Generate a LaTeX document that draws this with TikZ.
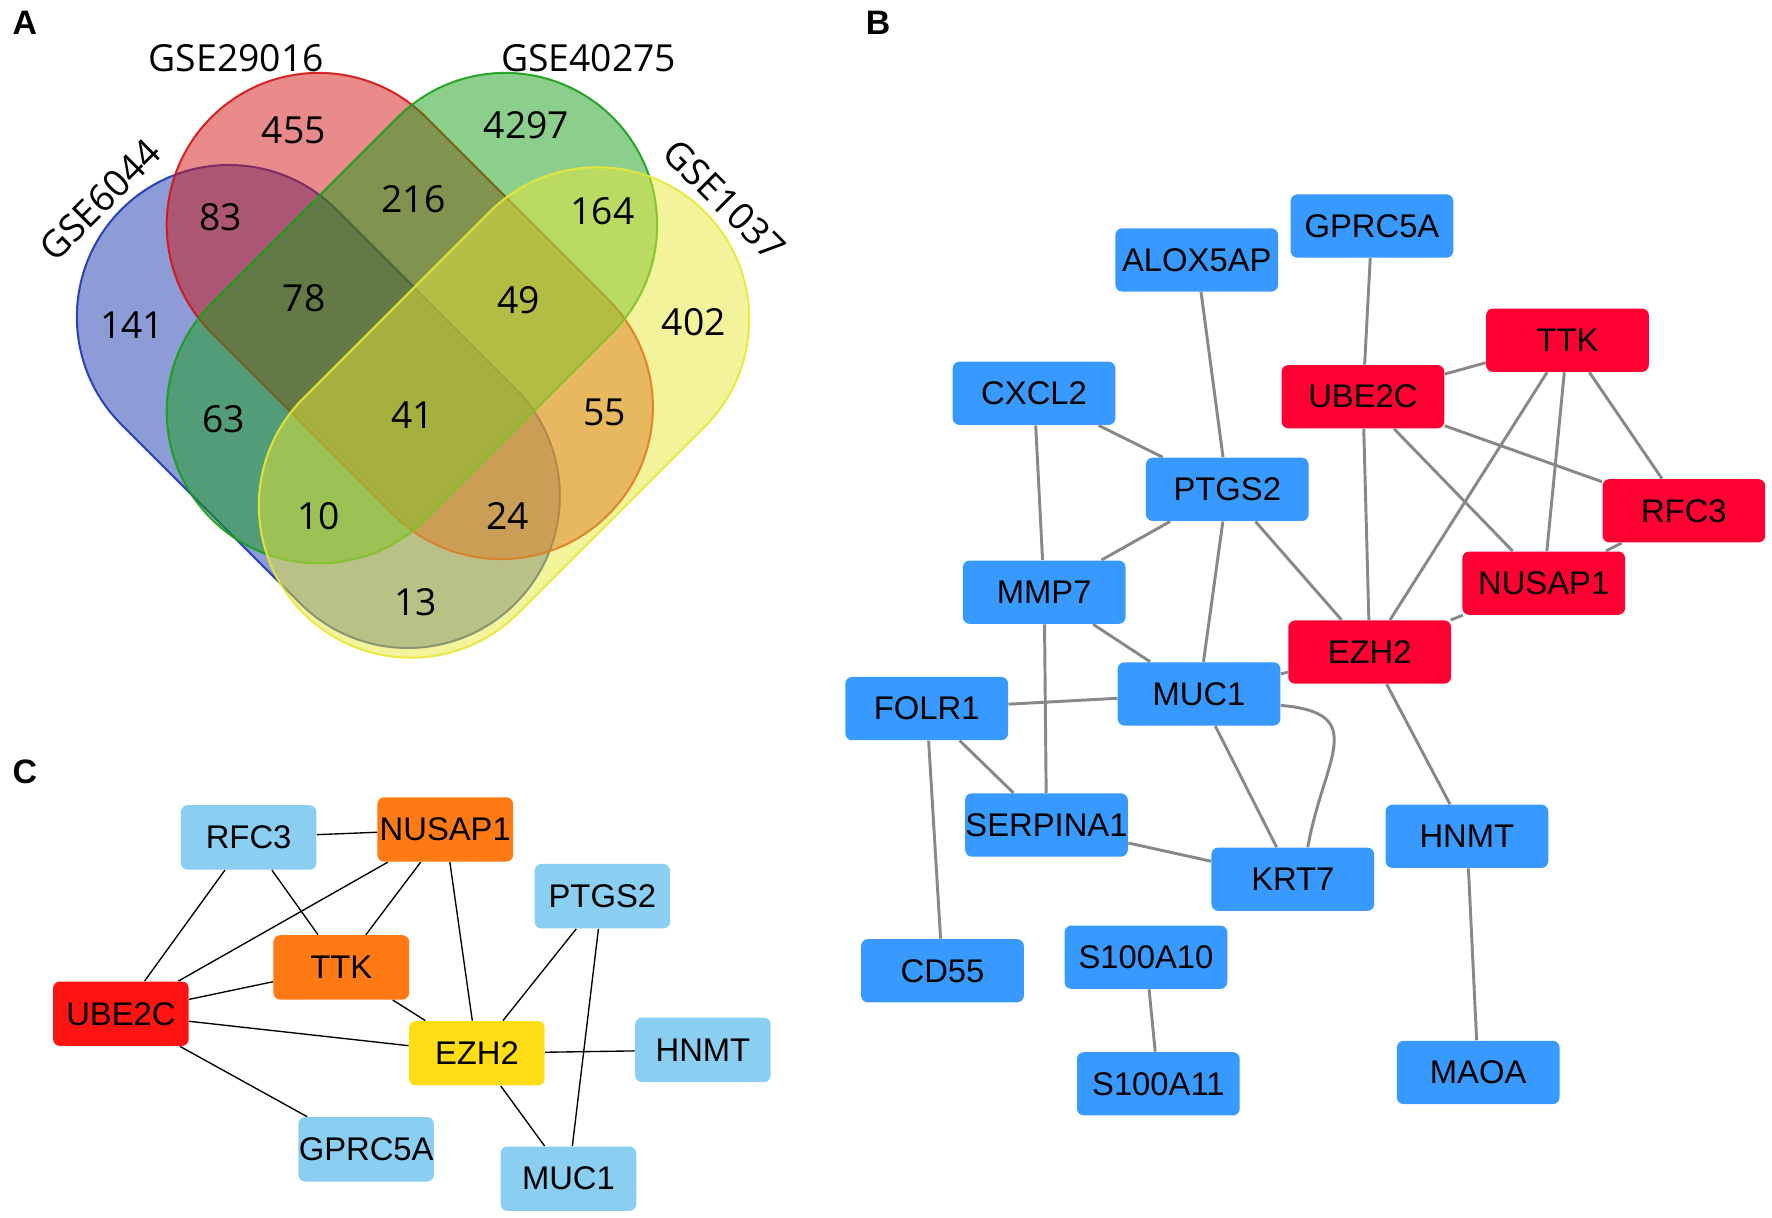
\documentclass[tikz,border=0pt]{standalone}
\usepackage{fontspec}
\setmainfont{Liberation Sans}
\newfontfamily\vennfont{Open Sans}
\definecolor{setblue}{RGB}{27,55,175}
\definecolor{setred}{RGB}{209,21,21}
\definecolor{setgreen}{RGB}{25,159,25}
\definecolor{setyellow}{RGB}{231,231,55}
\definecolor{netblue}{RGB}{56,154,255}
\definecolor{netred}{RGB}{255,0,51}
\definecolor{netgrey}{RGB}{136,136,136}
\definecolor{hubred}{RGB}{255,20,20}
\definecolor{huborange}{RGB}{255,122,20}
\definecolor{hubyellow}{RGB}{255,221,20}
\definecolor{hubblue}{RGB}{138,207,242}
\begin{document}
\begin{tikzpicture}[x=0.5pt,y=-0.5pt,
  venntext/.style={font=\vennfont\fontsize{16.5}{18}\selectfont},
  panel/.style={font=\bfseries\fontsize{15}{16}\selectfont},
  gnode/.style={rectangle,rounded corners=3pt,minimum width=72pt,minimum height=28pt,inner sep=0pt,font=\fontsize{14.5}{16}\selectfont},
  bnode/.style={gnode,fill=netblue},
  rnode/.style={gnode,fill=netred},
  cnode/.style={gnode,minimum width=60pt,minimum height=28.5pt},
  bedge/.style={draw=netgrey,line width=1.3pt},
  cedge/.style={draw=black,line width=0.6pt}]
  \useasboundingbox (0,0) rectangle (1568,1077);

  % Venn sets
  \foreach \cx/\cy/\ang/\len/\col in {202.5/280.5/-45/112/setblue, 282/199/-45/114/setred,
      447/199/-135/116.65/setgreen, 528.5/282.5/-135/116.65/setyellow} {
    \begin{scope}[shift={(\cx,\cy)},rotate=\ang]
      \filldraw[fill=\col,draw=\col,fill opacity=0.5,draw opacity=0.9,line width=0.9pt]
        (0pt,67.25pt) -- (\len pt,67.25pt) arc[start angle=90,end angle=-90,radius=67.25pt]
        -- (0pt,-67.25pt) arc[start angle=-90,end angle=-270,radius=67.25pt] -- cycle;
    \end{scope}
  }

  % Venn labels
  \node[venntext] (gse29016) at (209,51.6) {GSE29016};
  \node[venntext] (gse40275) at (521,51.6) {GSE40275};
  \node[venntext,rotate=45] (gse6044) at (88.5,177) {GSE6044};
  \node[venntext,rotate=-45] (gse1037) at (641,177) {GSE1037};
  \foreach \n/\x/\y in {455/260/115, 4297/466/111, 83/195/192, 216/366/176, 164/533/187,
      141/117/288, 78/269/264, 49/459/266, 402/614/285, 63/198/371, 41/365/367,
      55/535/365, 10/282/457, 24/449/457, 13/368/533}
    \node[venntext] (v\n) at (\x,\y) {\n};

  % Panels
  \node[panel] (pa) at (22,20) {A};
  \node[panel] (pb) at (777,20) {B};
  \node[panel] (pc) at (22,683) {C};

  % PPI network
  \foreach \n/\x/\y in {GPRC5A/1214/200, ALOX5AP/1059/230, CXCL2/915/348, PTGS2/1086/433,
      MMP7/924/524, MUC1/1061/614, FOLR1/820/627, SERPINA1/926/730, HNMT/1298/740,
      KRT7/1144/778, CD55/834/859, S100A10/1014/847, S100A11/1025/959, MAOA/1308/949}
    \node[bnode] (b\n) at (\x,\y) {\n};
  \foreach \n/\x/\y in {TTK/1387/301, UBE2C/1206/351, RFC3/1490/452, NUSAP1/1366/516, EZH2/1212/577}
    \node[rnode] (b\n) at (\x,\y) {\n};
  \foreach \a/\b in {ALOX5AP/PTGS2, GPRC5A/UBE2C, CXCL2/PTGS2, CXCL2/MMP7, PTGS2/MMP7,
      PTGS2/MUC1, PTGS2/EZH2, TTK/UBE2C, TTK/EZH2, TTK/NUSAP1, TTK/RFC3, UBE2C/RFC3,
      UBE2C/NUSAP1, UBE2C/EZH2, RFC3/NUSAP1, NUSAP1/EZH2, MMP7/MUC1, MMP7/SERPINA1,
      EZH2/MUC1, FOLR1/MUC1, FOLR1/SERPINA1, FOLR1/CD55, MUC1/KRT7, SERPINA1/KRT7,
      EZH2/HNMT, HNMT/MAOA, S100A10/S100A11}
    \draw[bedge] (b\a) -- (b\b);
  \draw[bedge] (bMUC1.-8) to[out=-5,in=80,looseness=1.6] (bKRT7.65);

  % Hub genes
  \node[cnode,fill=hubblue] (cRFC3) at (220,741) {RFC3};
  \node[cnode,fill=huborange] (cNUSAP1) at (394,734) {NUSAP1};
  \node[cnode,fill=hubblue] (cPTGS2) at (533,793) {PTGS2};
  \node[cnode,fill=huborange] (cTTK) at (302,856) {TTK};
  \node[cnode,fill=hubred] (cUBE2C) at (107,897) {UBE2C};
  \node[cnode,fill=hubyellow] (cEZH2) at (422,932) {EZH2};
  \node[cnode,fill=hubblue] (cHNMT) at (622,929) {HNMT};
  \node[cnode,fill=hubblue] (cGPRC5A) at (324,1017) {GPRC5A};
  \node[cnode,fill=hubblue] (cMUC1) at (503,1043) {MUC1};
  \foreach \a/\b in {RFC3/NUSAP1, RFC3/UBE2C, RFC3/TTK, NUSAP1/UBE2C, NUSAP1/TTK,
      NUSAP1/EZH2, TTK/UBE2C, TTK/EZH2, UBE2C/EZH2, UBE2C/GPRC5A, PTGS2/EZH2,
      PTGS2/MUC1, EZH2/HNMT, EZH2/MUC1}
    \draw[cedge] (c\a) -- (c\b);
\end{tikzpicture}
\end{document}
